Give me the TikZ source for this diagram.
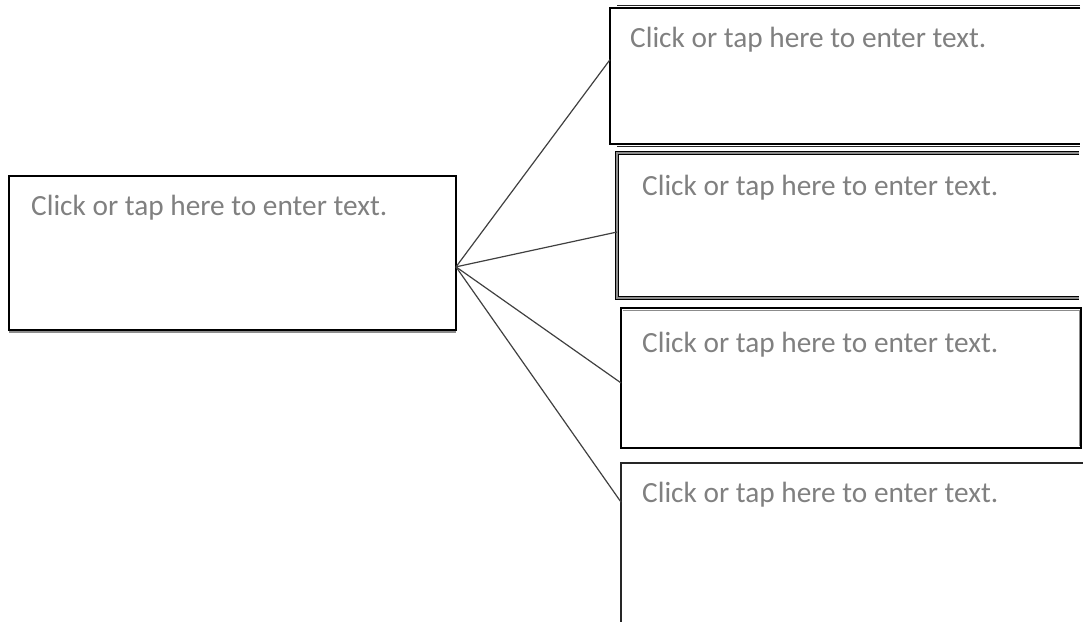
\documentclass[tikz,border=0pt]{standalone}
\usepackage{fontspec}
\setmainfont{Carlito}
\usetikzlibrary{calc}
\definecolor{txtgray}{HTML}{808080}
\definecolor{linegray}{HTML}{404040}
\begin{document}
\begin{tikzpicture}[x=1pt,y=-1pt,
  boxnode/.style={draw=none,inner sep=0pt,outer sep=0pt,anchor=north west,rectangle},
  txt/.style={anchor=base west,inner sep=0pt,text=txtgray,font=\fontsize{29.3}{35}\selectfont},
  conn/.style={draw=linegray,line width=1.2pt},
  edge1/.style={draw=black,line width=1.2pt},
  shadowline/.style={draw=black!85,line width=1.8pt},
  dbl/.style={draw=black,double=black!45,double distance=1.4pt,line width=1pt}]
\useasboundingbox (0,0) rectangle (1083,621);
% boxes
\node[boxnode,minimum width=447pt,minimum height=154pt] (L) at (9,176) {};
\node[boxnode,minimum width=470pt,minimum height=136pt] (B1) at (610,8) {};
\node[boxnode,minimum width=463pt,minimum height=145pt] (B2) at (617,153) {};
\node[boxnode,minimum width=460pt,minimum height=140pt] (B3) at (621,308) {};
\node[boxnode,minimum width=462pt,minimum height=170pt] (B4) at (621,463) {};
% left box
\draw[edge1] (L.north west) rectangle (L.south east);
\draw[line width=2.2pt] (L.north west) -- (L.north east);
\draw[black!45,line width=1.4pt] ([yshift=-1.8pt]L.south west) -- ([yshift=-1.8pt]L.south east);
% box 1
\draw[edge1] (B1.north east) -- (B1.north west) -- (B1.south west) -- (B1.south east);
\draw[shadowline] ([xshift=7pt,yshift=2.5pt]B1.north west) -- ([yshift=2.5pt]B1.north east);
\draw[shadowline] ([xshift=7pt,yshift=-2.5pt]B1.south west) -- ([yshift=-2.5pt]B1.south east);
% box 2
\draw[dbl] ([xshift=-1pt]B2.north east) -- (B2.north west) -- (B2.south west) -- ([xshift=-1pt]B2.south east);
% box 3
\draw[line width=1.6pt] (B3.north west) rectangle (B3.south east);
\draw[black!45,line width=1pt] ([xshift=1.5pt,yshift=-2pt]B3.north west) -- ([xshift=-1.5pt,yshift=-2pt]B3.north east);
\draw[black!45,line width=1pt] ([xshift=-2pt,yshift=-2pt]B3.north east) -- ([xshift=-2pt,yshift=2pt]B3.south east);
% box 4
\draw[line width=1.1pt,draw=black!85] (B4.north east) -- (B4.north west) -- (B4.south west);
% texts
\node[txt] (Lt) at (31,215) {Click or tap here to enter text.};
\node[txt] (B1t) at (630,47) {Click or tap here to enter text.};
\node[txt] (B2t) at (642,195) {Click or tap here to enter text.};
\node[txt] (B3t) at (642,352) {Click or tap here to enter text.};
\node[txt] (B4t) at (642,502) {Click or tap here to enter text.};
% connectors
\coordinate (hub) at ($(L.north east)!0.59!(L.south east)$);
\draw[conn] (hub) -- ($(B1.north west)!0.38!(B1.south west)$);
\draw[conn] (hub) -- ($(B2.north west)!0.545!(B2.south west)$);
\draw[conn] (hub) -- ($(B3.north west)!0.535!(B3.south west)$);
\draw[conn] (hub) -- ($(B4.north west)!0.23!(B4.south west)$);
\end{tikzpicture}
\end{document}
